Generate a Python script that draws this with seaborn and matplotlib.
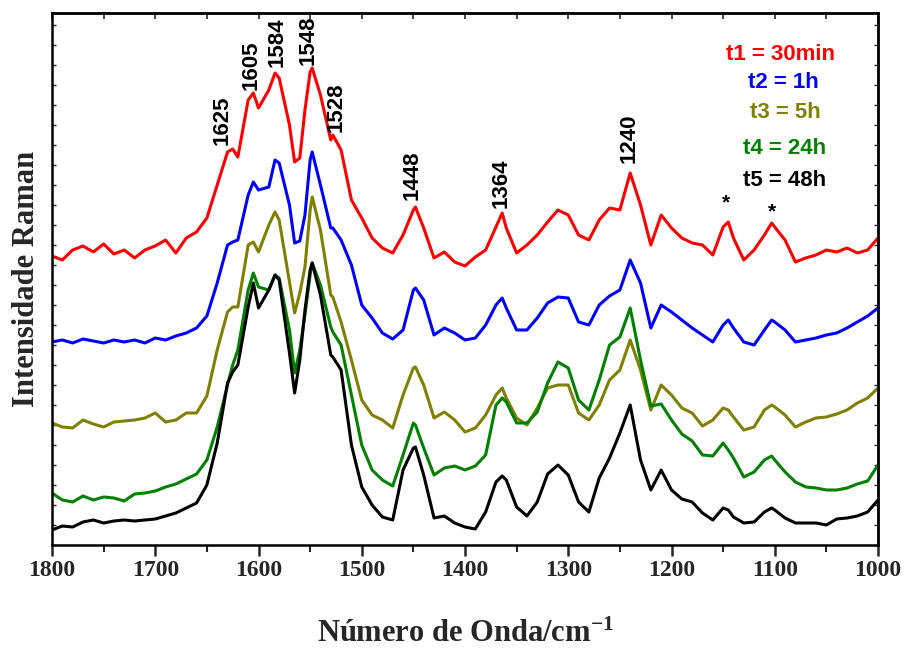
import numpy as np
import pandas as pd
import matplotlib
matplotlib.use("Agg")
import matplotlib.pyplot as plt
from matplotlib.ticker import MultipleLocator, NullFormatter
import seaborn as sns

# ---------------- data ----------------
wavenumber = [
    1800, 1790, 1780, 1770, 1760, 1750, 1740, 1730, 1720, 1710,
    1700, 1690, 1680, 1670, 1660, 1650, 1640, 1630, 1625, 1620,
    1610, 1605, 1600, 1590, 1584, 1580, 1570, 1565, 1560, 1555, 1550, 1548,
    1540, 1530, 1528, 1520, 1510, 1500, 1490, 1480, 1470, 1460,
    1450, 1448, 1440, 1430, 1420, 1410, 1400, 1390, 1380, 1370,
    1364, 1360, 1350, 1340, 1330, 1320, 1310, 1300, 1290, 1280,
    1270, 1260, 1250, 1240, 1230, 1220, 1210, 1200, 1190, 1180,
    1170, 1160, 1150, 1145, 1140, 1130, 1120, 1110, 1103, 1100,
    1090, 1080, 1070, 1060, 1050, 1040, 1030, 1020, 1010, 1000,
]

t1_30min = [
    289, 285, 295, 299, 293, 301, 291, 295, 287, 295,
    299, 305, 292, 307, 313, 327, 360, 393, 396, 388,
    445, 452, 437, 455, 472, 467, 420, 383, 387, 435, 473, 477,
    450, 405, 410, 395, 345, 327, 307, 297, 292, 310,
    335, 338, 317, 287, 293, 283, 279, 288, 295, 318,
    332, 317, 292, 300, 310, 323, 335, 330, 310, 305,
    325, 337, 335, 372, 340, 300, 330, 317, 307, 302,
    300, 290, 318, 323, 307, 285, 295, 310, 322, 318,
    305, 283, 287, 290, 295, 293, 297, 292, 295, 307,
]

t2_1h = [
    203, 205, 202, 206, 204, 202, 205, 203, 205, 202,
    207, 205, 209, 212, 217, 229, 262, 300, 303, 305,
    350, 363, 355, 358, 385, 382, 340, 302, 304, 330, 385, 393,
    360, 317, 317, 305, 280, 240, 227, 212, 206, 215,
    255, 257, 245, 210, 217, 212, 205, 207, 220, 240,
    247, 237, 215, 215, 227, 242, 248, 247, 223, 220,
    240, 249, 255, 285, 262, 217, 240, 233, 225, 217,
    210, 203, 220, 225, 217, 203, 200, 215, 225, 223,
    215, 203, 205, 207, 210, 212, 217, 223, 229, 237,
]

t3_5h = [
    122, 118, 117, 125, 121, 118, 123, 124, 125, 127,
    132, 123, 125, 132, 132, 149, 195, 233, 238, 238,
    300, 303, 293, 320, 333, 325, 263, 232, 252, 278, 335, 348,
    315, 250, 248, 223, 185, 145, 130, 125, 117, 150,
    177, 178, 160, 127, 133, 125, 113, 117, 130, 150,
    157, 147, 127, 120, 137, 157, 160, 160, 132, 125,
    140, 165, 175, 205, 175, 135, 160, 150, 137, 132,
    119, 125, 137, 135, 128, 115, 118, 135, 140, 138,
    130, 118, 123, 127, 128, 131, 135, 142, 147, 157,
]

t4_24h = [
    52, 45, 43, 49, 45, 48, 47, 44, 51, 52,
    54, 58, 61, 66, 71, 85, 118, 160, 180, 195,
    255, 272, 258, 255, 270, 267, 215, 172, 195, 230, 270, 282,
    260, 218, 213, 200, 150, 100, 75, 65, 59, 90,
    122, 120, 97, 70, 77, 79, 75, 79, 90, 140,
    147, 143, 122, 122, 133, 162, 183, 177, 145, 135,
    165, 200, 208, 237, 185, 139, 141, 125, 111, 104,
    90, 89, 102, 95, 87, 68, 73, 85, 89, 85,
    73, 63, 58, 57, 55, 55, 57, 61, 64, 80,
]

t5_48h = [
    15, 19, 18, 23, 25, 22, 24, 25, 24, 25,
    26, 29, 32, 37, 42, 60, 102, 162, 173, 180,
    238, 262, 237, 255, 270, 265, 192, 152, 185, 235, 275, 282,
    250, 190, 188, 175, 100, 58, 40, 28, 25, 75,
    97, 98, 70, 27, 29, 22, 18, 16, 33, 63,
    69, 65, 38, 29, 43, 71, 80, 70, 43, 33,
    67, 87, 112, 140, 85, 55, 75, 55, 46, 43,
    32, 25, 37, 35, 28, 22, 23, 33, 37, 35,
    27, 22, 22, 22, 20, 26, 27, 29, 33, 45,
]

series_names = ["t1 = 30min", "t2 = 1h", "t3 = 5h", "t4 = 24h", "t5 = 48h"]
series_values = [t1_30min, t2_1h, t3_5h, t4_24h, t5_48h]
series_colors = ["#ff0000", "#0000ff", "#808000", "#008000", "#000000"]

peak_labels = ["1625", "1605", "1584", "1548", "1528", "1448", "1364", "1240"]
peak_label_x = [1635, 1607, 1582, 1552, 1525, 1451, 1365, 1241]
peak_label_y = [400, 455, 478, 480, 413, 345, 337, 382]

star_x = [1147, 1103]
star_y = [342, 333]

for v in series_values:
    assert len(v) == len(wavenumber)

# ---------------- figure ----------------
sns.set_style("ticks")
plt.rcParams['font.family'] = ['Liberation Sans', 'DejaVu Sans']
plt.rcParams['mathtext.fontset'] = 'custom'
plt.rcParams['mathtext.rm'] = 'Liberation Serif:bold'
plt.rcParams['mathtext.it'] = 'Liberation Serif:bold'
plt.rcParams['mathtext.bf'] = 'Liberation Serif:bold'
plt.rcParams['mathtext.default'] = 'rm'

fig = plt.figure(figsize=(9.09, 6.48), dpi=100)
ax = fig.add_axes([52 / 909, 103 / 648, 826 / 909, 532 / 648])

frames = []
for name, vals in zip(series_names, series_values):
    frames.append(pd.DataFrame({"Onda": wavenumber, "I": vals, "serie": name}))
df = pd.concat(frames, ignore_index=True)

sns.lineplot(data=df, x="Onda", y="I", hue="serie", hue_order=series_names,
             palette=series_colors, estimator=None, sort=False, lw=2.2,
             legend=False, ax=ax)

ax.set_xlim(1800, 1000)
ax.set_ylim(0, 532)
ax.set_xlabel("")
ax.set_ylabel("")

for sp in ax.spines.values():
    sp.set_visible(True)
    sp.set_linewidth(1.8)
    sp.set_color("black")

ax.xaxis.set_major_locator(MultipleLocator(100))
ax.xaxis.set_minor_locator(MultipleLocator(50))
ax.tick_params(axis="x", which="major", direction="out", length=8, width=1.8,
               bottom=True, top=False, labelsize=17, pad=3)
ax.tick_params(axis="x", which="minor", direction="out", length=5, width=1.5,
               bottom=True, top=False)
ax.yaxis.set_major_locator(MultipleLocator(20))
ax.yaxis.set_major_formatter(NullFormatter())
ax.tick_params(axis="y", which="major", direction="in", length=3, width=1.0,
               left=True, right=False)
for lab in ax.get_xticklabels():
    lab.set_fontfamily("Liberation Serif")
    lab.set_fontweight("bold")

top = ax.secondary_xaxis("top")
top.xaxis.set_major_locator(MultipleLocator(50))
top.tick_params(direction="in", length=4, width=1.2, labeltop=False)
top.spines["top"].set_linewidth(1.8)
right = ax.secondary_yaxis("right")
right.yaxis.set_major_locator(MultipleLocator(20))
right.tick_params(direction="in", length=3, width=1.0, labelright=False)
right.spines["right"].set_linewidth(1.8)

for txt, xv, yv in zip(peak_labels, peak_label_x, peak_label_y):
    ax.text(xv, yv, txt, rotation=90, ha="center", va="bottom",
            fontsize=16, fontweight="bold", color="black",
            family="Liberation Sans")
for xv, yv in zip(star_x, star_y):
    ax.text(xv, yv, "*", ha="center", va="center", fontsize=15,
            fontweight="bold", color="black", family="Liberation Sans")

legend_x = [780, 783, 785, 785, 785]
legend_y = [55, 82, 113, 148, 181]
for name, col, lx, ly in zip(series_names, series_colors, legend_x, legend_y):
    fig.text(lx / 909, 1 - ly / 648, name, color=col, ha="center", va="center",
             fontsize=16, fontweight="bold", family="Liberation Sans")

fig.text(465 / 909, 1 - 642 / 648, r"Número de Onda/cm$^{-1}$",
         ha="center", va="baseline", fontsize=22, fontweight="bold",
         family="Liberation Serif")
fig.text(27 / 909, 1 - 279 / 648, "Intensidade Raman", rotation=90,
         ha="center", va="center", fontsize=22, fontweight="bold",
         family="Liberation Serif")

fig.savefig("out.png", dpi=100)
